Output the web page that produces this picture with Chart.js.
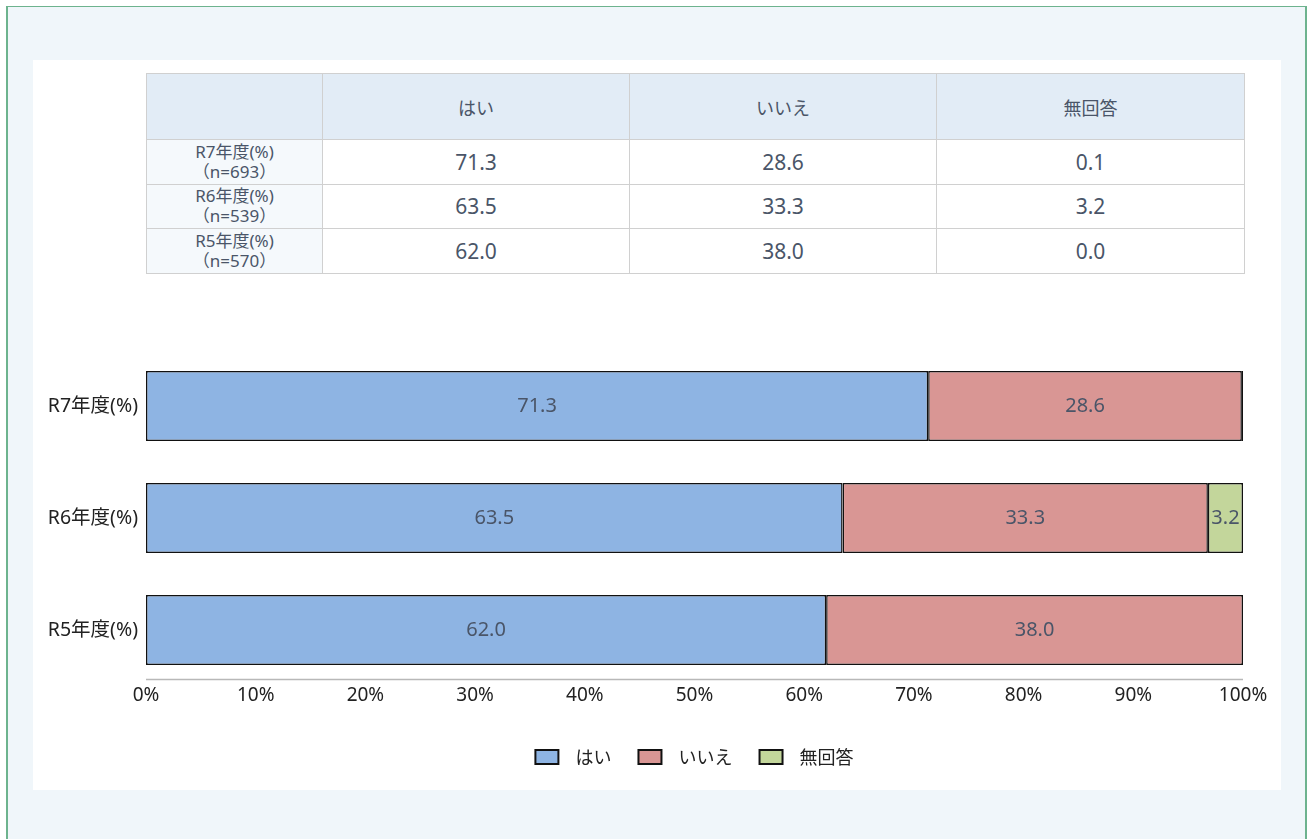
<!DOCTYPE html>
<html lang="ja">
<head>
<meta charset="utf-8">
<script src="https://cdn.jsdelivr.net/npm/chart.js@4.4.1/dist/chart.umd.min.js"></script>
<style>
  html, body { margin: 0; padding: 0; background: #ffffff; }
  body { width: 1308px; height: 839px; position: relative; overflow: hidden;
         font-family: "Noto Sans", "Noto Sans CJK JP", sans-serif; }
  #frame { position: absolute; left: 6px; top: 6px; width: 1297px; height: 840px;
           border: 1px solid #6db38e; border-left-width: 2px; border-right-width: 2px; background: #f0f6fa; }
  #panel { position: absolute; left: 33px; top: 60px; width: 1248px; height: 730px; background: #ffffff; }
  #tbl { position: absolute; left: 146px; top: 73px; border-collapse: collapse; table-layout: fixed; }
  #tbl td, #tbl th { border: 1.5px solid #d0d0d0; text-align: center; color: #4a5568; padding: 0; }
  #tbl th { background: #e2ecf6; font-weight: normal; font-size: 18px; height: 65px;
            font-family: "Noto Sans CJK JP", sans-serif; }
  #tbl td { font-size: 21px; height: 43.5px; }
  #tbl td.rh { background: #f5f9fc; font-size: 17px; line-height: 20px; }
  #chartWrap { position: absolute; left: 33px; top: 330px; width: 1248px; height: 460px; }
</style>
</head>
<body>
<div id="frame"></div>
<div id="panel"></div>
<table id="tbl"></table>
<div id="chartWrap"><canvas id="c" width="1248" height="460"></canvas></div>
<script>
// ---- data ----
const categories = ['R7年度(%)', 'R6年度(%)', 'R5年度(%)'];
const sampleSizes = ['（n=693）', '（n=539）', '（n=570）'];
const seriesNames = ['はい', 'いいえ', '無回答'];
const yesValues = [71.3, 63.5, 62.0];
const noValues = [28.6, 33.3, 38.0];
const noAnswerValues = [0.1, 3.2, 0.0];
const xTickValues = [0, 10, 20, 30, 40, 50, 60, 70, 80, 90, 100];

const seriesValues = [yesValues, noValues, noAnswerValues];
const seriesColors = ['#8eb4e3', '#d99694', '#c3d69b'];

// ---- table ----
(function buildTable() {
  const tbl = document.getElementById('tbl');
  const colW = [176, 307, 307, 308];
  const cg = document.createElement('colgroup');
  colW.forEach(w => { const c = document.createElement('col'); c.style.width = w + 'px'; cg.appendChild(c); });
  tbl.appendChild(cg);
  const hr = document.createElement('tr');
  hr.appendChild(document.createElement('th'));
  seriesNames.forEach(n => { const th = document.createElement('th'); th.textContent = n; hr.appendChild(th); });
  tbl.appendChild(hr);
  categories.forEach((cat, i) => {
    const tr = document.createElement('tr');
    const rh = document.createElement('td');
    rh.className = 'rh';
    rh.innerHTML = cat + '<br>' + sampleSizes[i];
    tr.appendChild(rh);
    seriesValues.forEach(vals => {
      const td = document.createElement('td');
      td.textContent = vals[i].toFixed(1);
      tr.appendChild(td);
    });
    tbl.appendChild(tr);
  });
})();

// ---- chart ----
const FONT = '"Noto Sans", "Noto Sans CJK JP", sans-serif';
const JFONT = '"Noto Sans CJK JP", "Noto Sans", sans-serif';

const valueLabels = {
  id: 'valueLabels',
  afterDatasetsDraw(chart) {
    const ctx = chart.ctx;
    ctx.save();
    ctx.font = '20px ' + FONT;
    ctx.fillStyle = '#4a5568';
    ctx.textAlign = 'center';
    ctx.textBaseline = 'middle';
    chart.data.datasets.forEach((ds, di) => {
      const meta = chart.getDatasetMeta(di);
      meta.data.forEach((bar, i) => {
        const v = ds.data[i];
        if (v < 1) return;
        const cx = (bar.x + bar.base) / 2;
        ctx.fillText(v.toFixed(1), cx, bar.y);
      });
    });
    ctx.restore();
  }
};

const axisLine = {
  id: 'axisLine',
  afterDatasetsDraw(chart) {
    const meta = chart.getDatasetMeta(0);
    const last = meta.data[meta.data.length - 1];
    if (!last) return;
    const y = last.y + last.height / 2 + 14.5;
    const ctx = chart.ctx;
    ctx.save();
    ctx.strokeStyle = '#b8b8b8';
    ctx.lineWidth = 1.5;
    ctx.beginPath();
    ctx.moveTo(chart.chartArea.left, y);
    ctx.lineTo(chart.chartArea.right, y);
    ctx.stroke();
    ctx.restore();
  }
};

const centerLegend = {
  id: 'centerLegend',
  beforeDraw(chart) {
    if (chart.legend) {
      chart.legend.left = chart.chartArea.left;
      chart.legend.right = chart.chartArea.right;
    }
  }
};

new Chart(document.getElementById('c'), {
  type: 'bar',
  data: {
    labels: categories,
    datasets: seriesNames.map((name, i) => ({
      label: name,
      data: seriesValues[i],
      backgroundColor: seriesColors[i],
      borderColor: '#111111',
      borderWidth: 1.5,
      borderSkipped: false,
      categoryPercentage: 1.0,
      barPercentage: 0.625
    }))
  },
  options: {
    indexAxis: 'y',
    responsive: false,
    animation: false,
    layout: { padding: { top: 20, right: 38, bottom: 14, left: 0 } },
    scales: {
      x: {
        stacked: true,
        min: 0, max: 100,
        afterBuildTicks(scale) { scale.ticks = xTickValues.map(v => ({ value: v })); },
        afterFit(scale) { scale.height = 35; },
        grid: { display: false, drawTicks: false },
        border: { display: false },
        ticks: {
          padding: -2,
          color: '#222222',
          font: { family: FONT, size: 19 },
          callback: v => v + '%',
          maxRotation: 0
        }
      },
      y: {
        stacked: true,
        afterFit(scale) { scale.width = 113; },
        grid: { display: false, drawTicks: false },
        border: { display: false },
        ticks: {
          padding: 8,
          color: '#222222',
          font: { family: FONT, size: 19.5 }
        }
      }
    },
    plugins: {
      tooltip: { enabled: false },
      legend: {
        position: 'bottom',
        labels: {
          boxWidth: 23,
          boxHeight: 14,
          padding: 27,
          color: '#222222',
          font: { family: JFONT, size: 18 },
          generateLabels(chart) {
            const items = Chart.defaults.plugins.legend.labels.generateLabels(chart);
            items.forEach(it => { it.text = '  ' + it.text; it.lineWidth = 2; });
            return items;
          }
        }
      }
    }
  },
  plugins: [valueLabels, axisLine, centerLegend]
});
</script>
</body>
</html>
